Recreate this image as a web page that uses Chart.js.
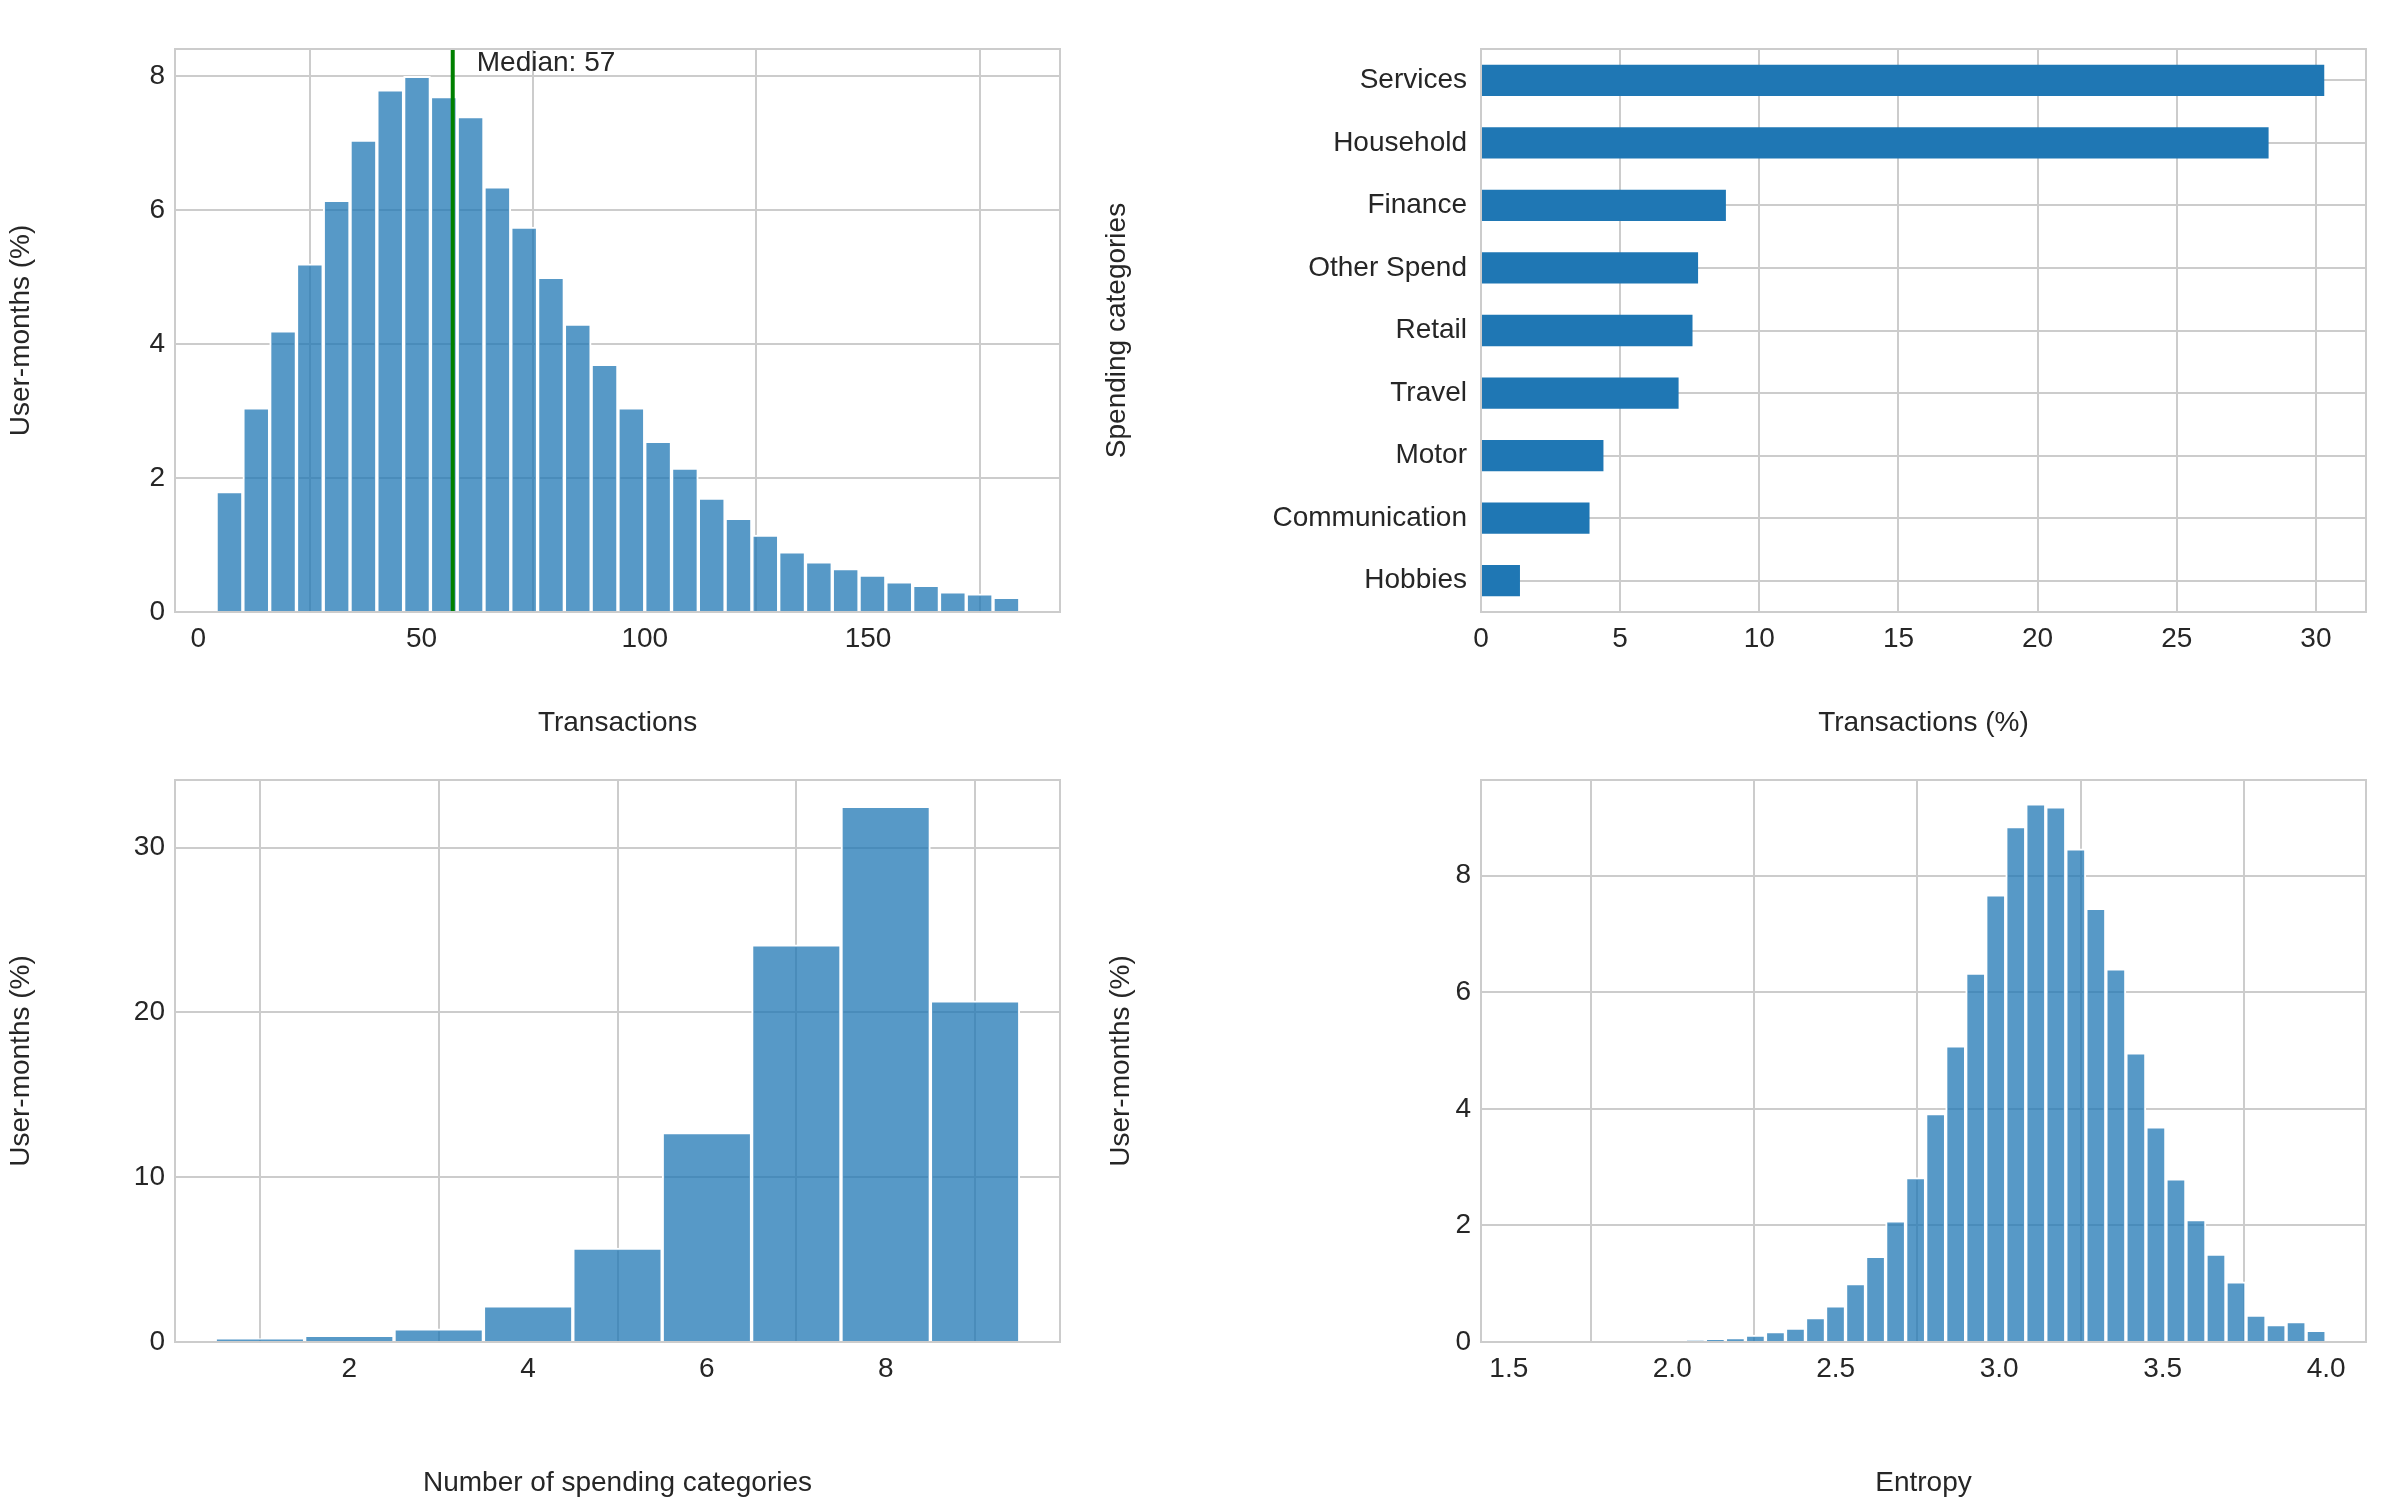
<!DOCTYPE html>
<html>
<head>
<meta charset="utf-8">
<script src="https://cdn.jsdelivr.net/npm/chart.js@4.4.1/dist/chart.umd.min.js"></script>
<style>
  body { margin: 0; background: #fff; }
  .box { position: absolute; }
</style>
</head>
<body>
<div class="box" style="left:0;top:0;width:1100px;height:740px"><canvas id="c1"></canvas></div>
<div class="box" style="left:1100px;top:0;width:1300px;height:740px"><canvas id="c2"></canvas></div>
<div class="box" style="left:0;top:730px;width:1100px;height:770px"><canvas id="c3"></canvas></div>
<div class="box" style="left:1100px;top:730px;width:1300px;height:770px"><canvas id="c4"></canvas></div>
<script>
// --- data ---
const txStart = 4, txWidth = 6;
const txPct = [1.8, 3.05, 4.2, 5.2, 6.15, 7.05, 7.8, 8.0, 7.7, 7.4, 6.35, 5.75, 5.0, 4.3, 3.7,
  3.05, 2.55, 2.15, 1.7, 1.4, 1.15, 0.9, 0.75, 0.65, 0.55, 0.45, 0.4, 0.3, 0.27, 0.22];
const txMedian = 57;

const categories = ['Services', 'Household', 'Finance', 'Other Spend', 'Retail', 'Travel', 'Motor', 'Communication', 'Hobbies'];
const catPct = [30.3, 28.3, 8.8, 7.8, 7.6, 7.1, 4.4, 3.9, 1.4];

const nCats = [1, 2, 3, 4, 5, 6, 7, 8, 9];
const nCatPct = [0.2, 0.4, 0.8, 2.2, 5.7, 12.7, 24.1, 32.5, 20.7];

const entStart = 2.04, entWidth = 0.06125;
const entPct = [0.02, 0.04, 0.07, 0.12, 0.18, 0.24, 0.42, 0.62, 1.0, 1.47, 2.08, 2.82, 3.92, 5.08,
  6.33, 7.67, 8.84, 9.23, 9.18, 8.46, 7.44, 6.4, 4.96, 3.69, 2.8, 2.1, 1.51, 1.03, 0.46, 0.3, 0.35, 0.2];

// --- style ---
Chart.defaults.font.family = '"Liberation Sans", Arial, sans-serif';
Chart.defaults.font.size = 28;
Chart.defaults.color = '#262626';
Chart.defaults.devicePixelRatio = 1;
const GRID = '#cccccc';
const HIST = 'rgba(31,119,180,0.75)';

function histPoints(start, width, vals) {
  return vals.map((v, i) => ({ x: start + width * (i + 0.5), y: v }));
}
function fixedTicks(list) {
  return axis => { axis.ticks = list.map(v => ({ value: v })); };
}
function fixW(w) { return s => { s.width = w; }; }
function fixH(h) { return s => { s.height = h; }; }

function linAxis(min, max, ticks, title, extra) {
  return Object.assign({
    type: 'linear', min: min, max: max, offset: false,
    afterBuildTicks: fixedTicks(ticks),
    grid: { color: GRID, lineWidth: 2, drawTicks: false },
    border: { color: GRID, width: 2 },
    ticks: { padding: 10 },
    title: { display: true, text: title, font: { size: 28 }, padding: { top: 4, bottom: 0 } }
  }, extra || {});
}

// border on all four sides
const frame = {
  id: 'frame',
  afterDraw(chart) {
    const { ctx, chartArea: a } = chart;
    ctx.save();
    ctx.strokeStyle = GRID;
    ctx.lineWidth = 2;
    ctx.strokeRect(a.left, a.top, a.right - a.left, a.bottom - a.top);
    ctx.restore();
  }
};

const medianLine = {
  id: 'medianLine',
  afterDatasetsDraw(chart) {
    const { ctx, chartArea: a, scales } = chart;
    const x = scales.x.getPixelForValue(txMedian);
    ctx.save();
    ctx.strokeStyle = 'green';
    ctx.lineWidth = 4;
    ctx.beginPath();
    ctx.moveTo(x, a.top);
    ctx.lineTo(x, a.bottom);
    ctx.stroke();
    ctx.fillStyle = '#262626';
    ctx.font = '28px "Liberation Sans", Arial, sans-serif';
    ctx.textBaseline = 'middle';
    ctx.fillText('Median: ' + txMedian, x + 24, a.top + 14);
    ctx.restore();
  }
};

function histChart(id, points, xAxis, yAxis, pad, plugins) {
  new Chart(document.getElementById(id), {
    type: 'bar',
    data: { datasets: [{ data: points, backgroundColor: HIST, borderColor: '#ffffff', borderWidth: 2,
      barPercentage: 1, categoryPercentage: 1, grouped: false }] },
    options: {
      responsive: true, maintainAspectRatio: false, animation: false,
      layout: { padding: pad },
      plugins: { legend: { display: false }, tooltip: { enabled: false } },
      scales: { x: xAxis, y: yAxis }
    },
    plugins: [frame].concat(plugins || [])
  });
}

// panel 1
histChart('c1', histPoints(txStart, txWidth, txPct),
  linAxis(-5.2, 193, [0, 50, 100, 150], 'Transactions', { afterFit: fixH(128) }),
  linAxis(0, 8.41, [0, 2, 4, 6, 8], 'User-months (%)', { afterFit: fixW(175) }),
  { top: 49, right: 40, left: 0, bottom: 0 }, [medianLine]);

// panel 2
new Chart(document.getElementById('c2'), {
  type: 'bar',
  data: { labels: categories, datasets: [{ data: catPct, backgroundColor: '#1f77b4', barPercentage: 0.5, categoryPercentage: 1 }] },
  options: {
    indexAxis: 'y', responsive: true, maintainAspectRatio: false, animation: false,
    layout: { padding: { top: 49, right: 34, left: 0, bottom: 0 } },
    plugins: { legend: { display: false }, tooltip: { enabled: false } },
    scales: {
      x: linAxis(0, 31.8, [0, 5, 10, 15, 20, 25, 30], 'Transactions (%)', { afterFit: fixH(128) }),
      y: {
        afterFit: fixW(381),
        grid: { color: GRID, lineWidth: 2, drawTicks: false, offset: false },
        border: { color: GRID, width: 2 },
        ticks: { padding: 14, font: { size: 28 } },
        title: { display: true, text: 'Spending categories', font: { size: 28 }, padding: { top: 0, bottom: 10 } }
      }
    }
  },
  plugins: [frame]
});

// panel 3
histChart('c3', nCats.map((c, i) => ({ x: c, y: nCatPct[i] })),
  linAxis(0.05, 9.95, [2, 4, 6, 8], 'Number of spending categories', { afterFit: fixH(158) }),
  linAxis(0, 34.1, [0, 10, 20, 30], 'User-months (%)', { afterFit: fixW(175) }),
  { top: 50, right: 40, left: 0, bottom: 0 });

// panel 4
histChart('c4', histPoints(entStart, entWidth, entPct),
  linAxis(1.415, 4.122, [1.5, 2.0, 2.5, 3.0, 3.5, 4.0], 'Entropy',
    { afterFit: fixH(158), ticks: { padding: 10, callback: v => v.toFixed(1) } }),
  linAxis(0, 9.64, [0, 2, 4, 6, 8], 'User-months (%)', { afterFit: fixW(381) }),
  { top: 50, right: 34, left: 0, bottom: 0 });
</script>
</body>
</html>
